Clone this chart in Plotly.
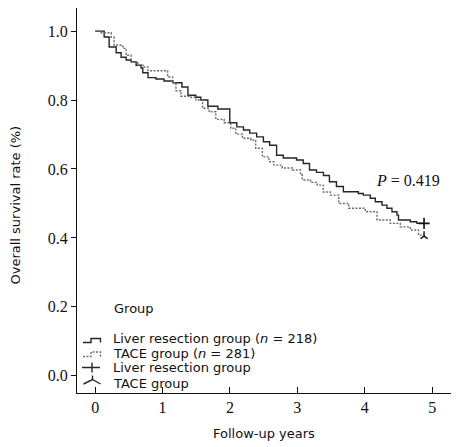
import plotly.graph_objects as go

# Kaplan-Meier step data (time in years, survival proportion)
liver_t = [0, 0.133, 0.207, 0.311, 0.385, 0.459, 0.533, 0.607, 0.680, 0.706, 0.784, 0.902,
           1.021, 1.154, 1.287, 1.376, 1.494, 1.568, 1.672, 1.820, 1.997, 2.101, 2.200,
           2.293, 2.396, 2.496, 2.589, 2.692, 2.791, 2.988, 3.087, 3.180, 3.284, 3.388,
           3.476, 3.580, 3.683, 3.905, 3.979, 4.083, 4.157, 4.256, 4.330, 4.404, 4.478,
           4.501, 4.675, 4.774, 4.88]
liver_s = [1.0, 0.983, 0.954, 0.937, 0.924, 0.916, 0.911, 0.901, 0.893, 0.879, 0.865, 0.861,
           0.855, 0.850, 0.838, 0.814, 0.808, 0.800, 0.782, 0.774, 0.734, 0.722, 0.713,
           0.704, 0.693, 0.679, 0.669, 0.640, 0.632, 0.626, 0.616, 0.597, 0.590, 0.581,
           0.563, 0.549, 0.534, 0.529, 0.524, 0.515, 0.505, 0.495, 0.486, 0.476, 0.466,
           0.452, 0.447, 0.442, 0.442]

tace_t = [0, 0.089, 0.237, 0.281, 0.410, 0.459, 0.533, 0.632, 0.725, 0.784, 1.075, 1.149,
          1.198, 1.272, 1.420, 1.494, 1.593, 1.691, 1.790, 1.913, 2.012, 2.086, 2.185,
          2.308, 2.382, 2.481, 2.578, 2.652, 2.777, 2.925, 3.047, 3.072, 3.195, 3.294,
          3.383, 3.491, 3.614, 3.762, 4.009, 4.182, 4.379, 4.527, 4.675, 4.797, 4.88]
tace_s = [1.0, 0.995, 0.982, 0.959, 0.950, 0.930, 0.911, 0.901, 0.896, 0.885, 0.867, 0.850,
          0.827, 0.811, 0.808, 0.800, 0.776, 0.766, 0.744, 0.734, 0.718, 0.701, 0.689,
          0.684, 0.660, 0.635, 0.621, 0.611, 0.603, 0.597, 0.587, 0.568, 0.561, 0.553,
          0.533, 0.524, 0.500, 0.486, 0.476, 0.452, 0.442, 0.432, 0.423, 0.408, 0.405]

x_ticks = [0, 1, 2, 3, 4, 5]
y_ticks = [0.0, 0.2, 0.4, 0.6, 0.8, 1.0]
y_tick_labels = ["0.0", "0.2", "0.4", "0.6", "0.8", "1.0"]

legend_title = "Group"
legend_labels = ["Liver resection group (<i>n</i> = 218)", "TACE group (<i>n</i> = 281)",
                 "Liver resection group", "TACE group"]
p_text = "<i>P</i> = 0.419"

W, H = 457, 447
L, R, T, B = 77, 6, 8, 54
PW, PH = W - L - R, H - T - B


def fx(px):
    return (px - L) / PW


def fy(py):
    return (H - B - py) / PH


SANS = "DejaVu Sans, Verdana, sans-serif"
SERIF = "Liberation Serif, Times New Roman, serif"
FS = 13

fig = go.Figure()
fig.add_trace(go.Scatter(x=liver_t, y=liver_s, mode="lines", line_shape="hv",
                         line=dict(color="#262626", width=1.4), showlegend=False))
fig.add_trace(go.Scatter(x=tace_t, y=tace_s, mode="lines", line_shape="hv",
                         line=dict(color="#6a6a6a", width=1.4, dash="2px,1.5px"), showlegend=False))
fig.add_trace(go.Scatter(x=[liver_t[-1]], y=[liver_s[-1]], mode="markers",
                         marker=dict(symbol="cross-thin", size=8, line=dict(color="#111", width=1.6)),
                         showlegend=False))
fig.add_trace(go.Scatter(x=[tace_t[-1]], y=[tace_s[-1]], mode="markers",
                         marker=dict(symbol="y-up", size=6, line=dict(color="#111", width=1.4)),
                         showlegend=False))

shapes = []
# legend symbols (layout positions)
shapes.append(dict(type="path", xref="paper", yref="paper",
                   path=f"M{fx(83)},{fy(342.5)} L{fx(91)},{fy(342.5)} L{fx(91)},{fy(338.5)} L{fx(100.5)},{fy(338.5)} L{fx(100.5)},{fy(342.5)}",
                   line=dict(color="#262626", width=1.4)))
shapes.append(dict(type="path", xref="paper", yref="paper",
                   path=f"M{fx(83)},{fy(356.5)} L{fx(91)},{fy(356.5)} L{fx(91)},{fy(352)} L{fx(100.5)},{fy(352)} L{fx(100.5)},{fy(356.5)}",
                   line=dict(color="#6a6a6a", width=1.4, dash="2px,1.5px")))
shapes.append(dict(type="path", xref="paper", yref="paper",
                   path=f"M{fx(82)},{fy(367.5)} L{fx(100)},{fy(367.5)} M{fx(92)},{fy(362.5)} L{fx(92)},{fy(372.5)}",
                   line=dict(color="#262626", width=1.4)))
shapes.append(dict(type="path", xref="paper", yref="paper",
                   path=f"M{fx(83.5)},{fy(384)} L{fx(92.5)},{fy(379.5)} L{fx(100.5)},{fy(384)} M{fx(92.5)},{fy(379.5)} L{fx(92.5)},{fy(375.5)}",
                   line=dict(color="#262626", width=1.4)))

annotations = []
annotations.append(dict(text=legend_title, x=fx(112), y=fy(308), xref="paper", yref="paper",
                        xanchor="left", yanchor="middle", showarrow=False,
                        font=dict(family=SANS, size=FS, color="#111")))
for lab, py in zip(legend_labels, [338.5, 353, 367.5, 383]):
    annotations.append(dict(text=lab, x=fx(111), y=fy(py), xref="paper", yref="paper",
                            xanchor="left", yanchor="middle", showarrow=False,
                            font=dict(family=SANS, size=FS, color="#111")))
annotations.append(dict(text=p_text, x=fx(408), y=fy(180), xref="paper", yref="paper",
                        xanchor="center", yanchor="middle", showarrow=False,
                        font=dict(family=SERIF, size=16, color="#111")))
annotations.append(dict(text="Overall survival rate (%)", x=fx(15), y=fy(205.5), xref="paper", yref="paper",
                        xanchor="center", yanchor="middle", textangle=-90, showarrow=False,
                        font=dict(family=SANS, size=13, color="#111")))
annotations.append(dict(text="Follow-up years", x=fx(264), y=fy(434), xref="paper", yref="paper",
                        xanchor="center", yanchor="middle", showarrow=False,
                        font=dict(family=SANS, size=13, color="#111")))

fig.update_layout(
    width=W, height=H,
    margin=dict(l=L, r=R, t=T, b=B, autoexpand=False),
    paper_bgcolor="white", plot_bgcolor="white",
    shapes=shapes, annotations=annotations,
    showlegend=False,
    xaxis=dict(range=[-0.27, 5.28], tickvals=x_ticks, ticks="inside", ticklen=6,
               tickcolor="#111", tickwidth=1.3, showline=True, linecolor="#111", linewidth=1.3,
               showgrid=False, zeroline=False, ticklabelstandoff=0,
               tickfont=dict(family=SERIF, size=16, color="#111")),
    yaxis=dict(range=[-0.05, 1.067], tickvals=y_ticks, ticktext=y_tick_labels, ticks="outside",
               ticklen=5, tickcolor="#111", tickwidth=1.3, showline=True, linecolor="#111",
               linewidth=1.3, showgrid=False, zeroline=False,
               tickfont=dict(family=SERIF, size=16, color="#111")),
)

fig.write_html("out.html", config={"displayModeBar": False},
               post_script="document.body.style.margin='0px';document.body.style.overflow='hidden';")
